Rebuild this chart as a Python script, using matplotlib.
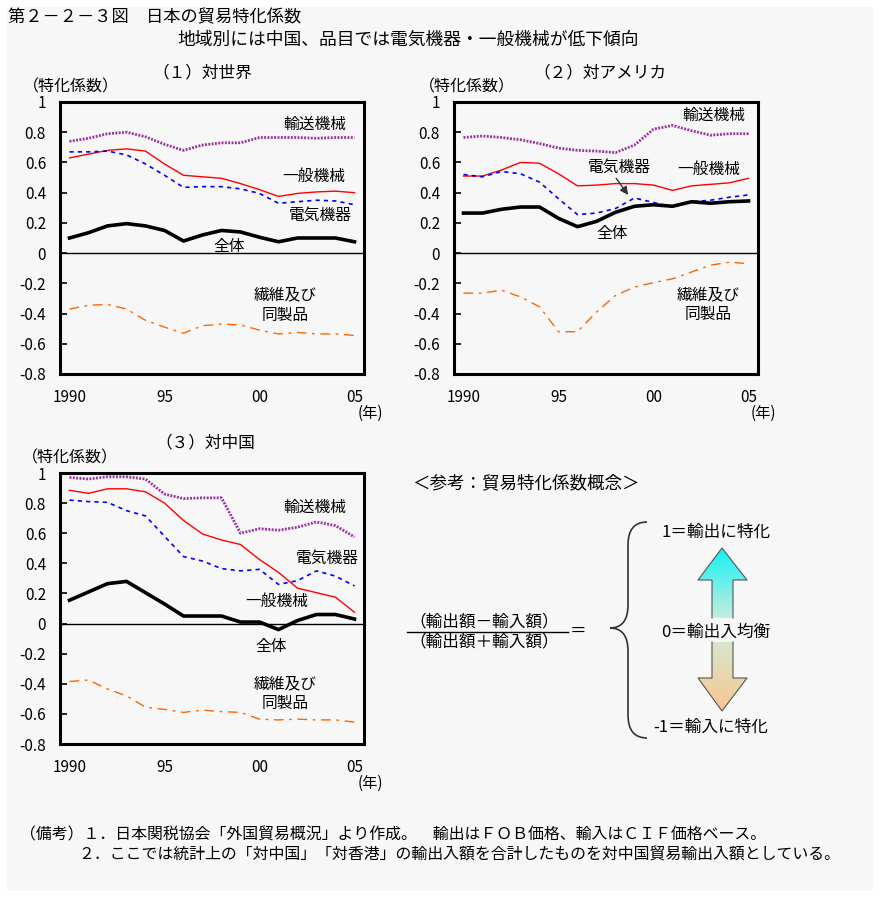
import matplotlib

matplotlib.use("Agg")
import matplotlib.pyplot as plt
import numpy as np
from matplotlib.patches import Rectangle, Polygon, PathPatch
from matplotlib.path import Path

plt.rcParams["font.family"] = ["Noto Sans CJK JP", "DejaVu Sans"]

W, H = 880, 898

# ---- data ----
years = list(range(1990, 2006))

# (1) world
w_transport = [0.74, 0.76, 0.79, 0.80, 0.77, 0.72, 0.68, 0.715, 0.73, 0.73, 0.765, 0.765, 0.765, 0.76, 0.765, 0.765]
w_general = [0.63, 0.655, 0.68, 0.69, 0.675, 0.59, 0.515, 0.505, 0.495, 0.46, 0.42, 0.375, 0.395, 0.405, 0.41, 0.40]
w_electric = [0.67, 0.67, 0.675, 0.65, 0.59, 0.515, 0.435, 0.44, 0.44, 0.425, 0.395, 0.33, 0.34, 0.35, 0.345, 0.32]
w_total = [0.10, 0.135, 0.18, 0.195, 0.18, 0.15, 0.08, 0.12, 0.15, 0.14, 0.105, 0.075, 0.10, 0.10, 0.10, 0.075]
w_textile = [-0.37, -0.345, -0.34, -0.37, -0.445, -0.49, -0.53, -0.48, -0.47, -0.475, -0.51, -0.535, -0.525, -0.535, -0.535, -0.545]

# (2) USA
u_transport = [0.765, 0.775, 0.765, 0.75, 0.725, 0.695, 0.68, 0.675, 0.665, 0.715, 0.82, 0.845, 0.81, 0.78, 0.79, 0.79]
u_general = [0.51, 0.51, 0.55, 0.60, 0.595, 0.525, 0.445, 0.45, 0.46, 0.46, 0.45, 0.415, 0.445, 0.455, 0.465, 0.495]
u_electric = [0.52, 0.505, 0.54, 0.525, 0.47, 0.36, 0.255, 0.265, 0.295, 0.365, 0.335, 0.305, 0.34, 0.35, 0.37, 0.385]
u_total = [0.265, 0.265, 0.29, 0.305, 0.305, 0.23, 0.175, 0.21, 0.27, 0.31, 0.32, 0.31, 0.34, 0.33, 0.34, 0.345]
u_textile = [-0.265, -0.265, -0.245, -0.29, -0.355, -0.52, -0.52, -0.39, -0.28, -0.225, -0.195, -0.17, -0.125, -0.08, -0.06, -0.07]

# (3) China
c_transport = [0.97, 0.96, 0.975, 0.975, 0.96, 0.86, 0.83, 0.835, 0.835, 0.60, 0.63, 0.62, 0.64, 0.675, 0.65, 0.575]
c_general = [0.885, 0.865, 0.895, 0.895, 0.875, 0.80, 0.685, 0.595, 0.555, 0.525, 0.425, 0.34, 0.235, 0.205, 0.175, 0.075]
c_electric = [0.82, 0.81, 0.805, 0.75, 0.715, 0.58, 0.445, 0.415, 0.365, 0.35, 0.36, 0.26, 0.285, 0.35, 0.315, 0.25]
c_total = [0.155, 0.21, 0.265, 0.28, 0.205, 0.13, 0.05, 0.05, 0.05, 0.01, 0.01, -0.04, 0.02, 0.06, 0.06, 0.03]
c_textile = [-0.385, -0.375, -0.435, -0.48, -0.555, -0.57, -0.59, -0.575, -0.585, -0.59, -0.635, -0.64, -0.635, -0.64, -0.64, -0.655]

y_ticks = [1, 0.8, 0.6, 0.4, 0.2, 0, -0.2, -0.4, -0.6, -0.8]
y_ticklabels = ["1", "0.8", "0.6", "0.4", "0.2", "0", "-0.2", "-0.4", "-0.6", "-0.8"]
x_ticks = [1990, 1995, 2000, 2005]
x_ticklabels = ["1990", "95", "00", "05"]

series_names = ["輸送機械", "一般機械", "電気機器", "全体", "繊維及び\n同製品"]


def px_rect(left, top, right, bottom):
    return [left / W, 1 - bottom / H, (right - left) / W, (bottom - top) / H]


fig = plt.figure(figsize=(W / 100, H / 100), dpi=100)

# background / free text layer in pixel coordinates
bg = fig.add_axes([0, 0, 1, 1], zorder=-1)
bg.set_xlim(0, W)
bg.set_ylim(H, 0)
bg.axis("off")
bg.add_patch(Rectangle((7, 7), 866, 884, facecolor="#f7f7f7", edgecolor="none"))


def draw_panel(rect, transport, general, electric, total, textile, labels):
    ax = fig.add_axes(px_rect(*rect))
    ax.set_facecolor("none")
    ax.plot(years, transport, color="#9933a0", lw=2.0, ls=(0, (0.7, 0.5)), zorder=3)
    ax.plot(years, general, color="#ff0000", lw=1.0, zorder=3)
    ax.plot(years, electric, color="#0000ff", lw=1.2, ls=(0, (2.5, 2.5)), zorder=3)
    ax.plot(years, total, color="black", lw=2.6, zorder=4)
    ax.plot(years, textile, color="#ff6600", lw=1.0, ls=(0, (7, 4, 2, 4)), zorder=3)
    ax.axhline(0, color="black", lw=1.0, zorder=2)
    ax.set_xlim(1989.5, 2005.5)
    ax.set_ylim(-0.8, 1.0)
    ax.set_yticks(y_ticks)
    ax.set_yticklabels(y_ticklabels)
    ax.set_xticks(x_ticks)
    ax.set_xticklabels(x_ticklabels)
    ax.tick_params(axis="y", direction="in", length=5, width=1.2, pad=10, labelsize=11)
    ax.tick_params(axis="x", length=0, pad=11, labelsize=11)
    for s in ax.spines.values():
        s.set_linewidth(2.2)
    for name, (x, y) in zip(series_names, labels):
        ax.text(x, y, name, ha="center", va="center", fontsize=11.3, linespacing=1.25)
    return ax


p1 = draw_panel((60, 102, 364, 374), w_transport, w_general, w_electric, w_total, w_textile,
                [(2002.9, 0.85), (2002.85, 0.505), (2003.2, 0.25), (1998.4, 0.045), (2001.35, -0.345)])
p2 = draw_panel((454, 102, 758, 374), u_transport, u_general, u_electric, u_total, u_textile,
                [(2003.2, 0.915), (2002.9, 0.555), (1998.2, 0.565), (1997.8, 0.13), (2002.9, -0.34)])
p2.annotate("", xy=(1998.75, 0.37), xytext=(1997.95, 0.51),
            arrowprops=dict(arrowstyle="-|>", color="#333333", lw=1.0, mutation_scale=12))
p3 = draw_panel((60, 473, 364, 744), c_transport, c_general, c_electric, c_total, c_textile,
                [(2002.9, 0.775), (2000.9, 0.145), (2003.55, 0.43), (2000.6, -0.15), (2001.35, -0.465)])

# panel headings, axis units
for x, y, s in [(202, 73, "（１）対世界"), (600, 73, "（２）対アメリカ"), (205, 443, "（３）対中国")]:
    bg.text(x, y, s, ha="center", va="center", fontsize=12)
for x, y in [(71, 87), (467, 87), (70, 458)]:
    bg.text(x, y, "（特化係数）", ha="center", va="center", fontsize=11.5)
for x, y in [(370, 413), (763, 413), (370, 783)]:
    bg.text(x, y, "(年)", ha="center", va="center", fontsize=11)

# titles
bg.text(8, 17, "第２－２－３図　日本の貿易特化係数", ha="left", va="center", fontsize=12.4)
bg.text(177, 40, "地域別には中国、品目では電気機器・一般機械が低下傾向", ha="left", va="center", fontsize=12.8)

# footnotes
bg.text(20, 835, "（備考）１．日本関税協会「外国貿易概況」より作成。　輸出はＦＯＢ価格、輸入はＣＩＦ価格ベース。",
        ha="left", va="center", fontsize=11.45)
bg.text(78, 855, "２．ここでは統計上の「対中国」「対香港」の輸出入額を合計したものを対中国貿易輸出入額としている。",
        ha="left", va="center", fontsize=11.45)

# ---- reference schematic ----
bg.text(412, 483, "＜参考：貿易特化係数概念＞", ha="left", va="center", fontsize=12.6)
bg.text(484, 622, "（輸出額－輸入額）", ha="center", va="center", fontsize=12)
bg.plot([407, 568], [632, 632], color="black", lw=1.0)
bg.text(484, 642, "（輸出額＋輸入額）", ha="center", va="center", fontsize=12)
bg.text(578, 631, "＝", ha="center", va="center", fontsize=12)

brace = Path(
    [(647, 522), (628, 522), (628, 545), (628, 605), (628, 628), (610, 628),
     (628, 628), (628, 651), (628, 715), (628, 738), (647, 738)],
    [Path.MOVETO, Path.CURVE3, Path.CURVE3, Path.LINETO, Path.CURVE3, Path.CURVE3,
     Path.CURVE3, Path.CURVE3, Path.LINETO, Path.CURVE3, Path.CURVE3],
)
bg.add_patch(PathPatch(brace, facecolor="none", edgecolor="#333333", lw=1.2))

bg.text(716, 532, "1＝輸出に特化", ha="center", va="center", fontsize=12)
bg.text(716, 632, "0＝輸出入均衡", ha="center", va="center", fontsize=12)
bg.text(711, 727, "-1＝輸入に特化", ha="center", va="center", fontsize=12)


def gradient_arrow(points, top, bottom, c_top, c_bottom):
    n = 64
    t = np.linspace(0, 1, n)[:, None]
    c0 = np.array(matplotlib.colors.to_rgb(c_top))
    c1 = np.array(matplotlib.colors.to_rgb(c_bottom))
    grad = (c0 * (1 - t) + c1 * t)[:, None, :]
    poly = Polygon(points, closed=True, facecolor="none", edgecolor="none")
    bg.add_patch(poly)
    im = bg.imshow(grad, extent=(698, 747, bottom, top), origin="upper", aspect="auto", zorder=1)
    im.set_clip_path(poly)
    xs, ys = zip(*points)
    bg.plot(xs, ys, color="#555555", lw=0.8, zorder=2)


up_pts = [(712, 618), (712, 580), (698, 580), (722, 548), (747, 580), (733, 580), (733, 618)]
gradient_arrow(up_pts, 548, 618, "#14f2f2", "#c4ece0")
down_pts = [(733, 642), (733, 678), (747, 678), (722, 711), (698, 678), (712, 678), (712, 642)]
gradient_arrow(down_pts, 642, 711, "#d8e6cc", "#f8c690")

bg.set_xlim(0, W)
bg.set_ylim(H, 0)

fig.savefig("out.png", dpi=100)
